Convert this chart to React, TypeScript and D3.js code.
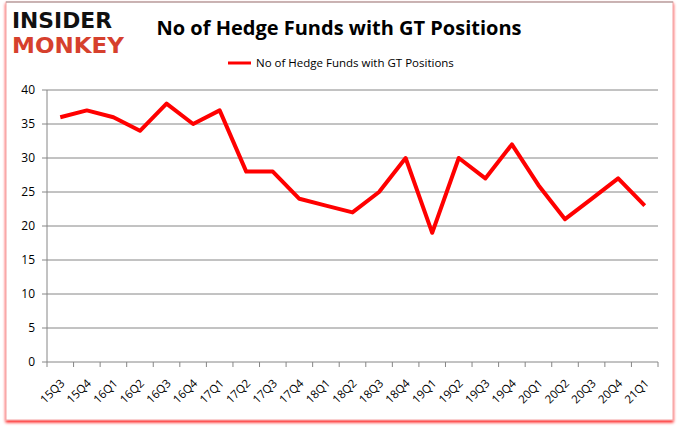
import React from "react";
import * as d3 from "d3";

const categories = ["15Q3","15Q4","16Q1","16Q2","16Q3","16Q4","17Q1","17Q2","17Q3","17Q4","18Q1","18Q2","18Q3","18Q4","19Q1","19Q2","19Q3","19Q4","20Q1","20Q2","20Q3","20Q4","21Q1"];
const values = [36,37,36,34,38,35,37,28,28,24,23,22,25,30,19,30,27,32,26,21,24,27,23];
const yTicks = [0,5,10,15,20,25,30,35,40];
const title = "No of Hedge Funds with GT Positions";
const seriesName = "No of Hedge Funds with GT Positions";

export default function App() {
  const W = 680, H = 433;
  const left = 47, right = 658, top = 90, bottom = 362;
  const x = d3.scaleBand<string>().domain(categories).range([left, right]);
  const y = d3.scaleLinear().domain([0, 40]).range([bottom, top]);
  const line = d3.line<number>()
    .x((_, i) => (x(categories[i]) as number) + x.bandwidth() / 2)
    .y((d) => y(d));
  const font = "'Open Sans', 'Liberation Sans', sans-serif";
  const tickXs = categories.map((c) => x(c) as number).concat([right]);
  return (
    <svg width={W} height={H} style={{ position: "absolute", left: 0, top: 0 }} fontFamily={font}>
      <defs>
        <filter id="sh" x="-5%" y="-5%" width="110%" height="110%">
          <feDropShadow dx="0" dy="2" stdDeviation="1.5" floodColor="#ff0000" floodOpacity="0.9" />
        </filter>
      </defs>
      <rect x={0} y={0} width={W} height={H} fill="#fff" />
      <rect x={6} y={2} width={667} height={418} fill="#fff" stroke="#f3a0a0" strokeWidth={1} filter="url(#sh)" />
      <line x1={6} y1={2} x2={673} y2={2} stroke="#9a9a9a" />
      {/* logo */}
      <text x={12} y={28} fontFamily="'DejaVu Sans', sans-serif" fontWeight="bold" fontSize={21} textLength={100} lengthAdjust="spacingAndGlyphs" fill="#111">INSIDER</text>
      <text x={12} y={53} fontFamily="'DejaVu Sans', sans-serif" fontWeight="bold" fontSize={21} textLength={112} lengthAdjust="spacingAndGlyphs" fill="#d6402d">MONKEY</text>
      {/* title */}
      <text x={339} y={35} textAnchor="middle" fontSize={20} fontWeight="bold" fill="#000">{title}</text>
      {/* legend */}
      <line x1={228} y1={63} x2={251} y2={63} stroke="#ff0000" strokeWidth={3} />
      <text x={256} y={67} fontSize={11.5} fill="#000">{seriesName}</text>
      {/* grid */}
      {yTicks.map((t) => (
        <g key={t}>
          <line x1={left - 5} x2={right} y1={y(t)} y2={y(t)} stroke="#868686" strokeWidth={1} />
          <text x={35} y={y(t) + 4} textAnchor="end" fontSize={12} fill="#000">{t}</text>
        </g>
      ))}
      <line x1={left} x2={left} y1={top} y2={bottom} stroke="#868686" />
      {tickXs.map((tx, i) => (
        <line key={i} x1={tx} x2={tx} y1={bottom} y2={bottom + 5} stroke="#868686" />
      ))}
      {categories.map((c) => {
        const cx = (x(c) as number) + x.bandwidth() / 2 + 5;
        return (
          <text key={c} transform={`translate(${cx},${bottom + 22}) rotate(-45)`} textAnchor="end" fontSize={11.5} fill="#000">{c}</text>
        );
      })}
      <path d={line(values) || ""} fill="none" stroke="#ff0000" strokeWidth={4} strokeLinejoin="round" />
    </svg>
  );
}
